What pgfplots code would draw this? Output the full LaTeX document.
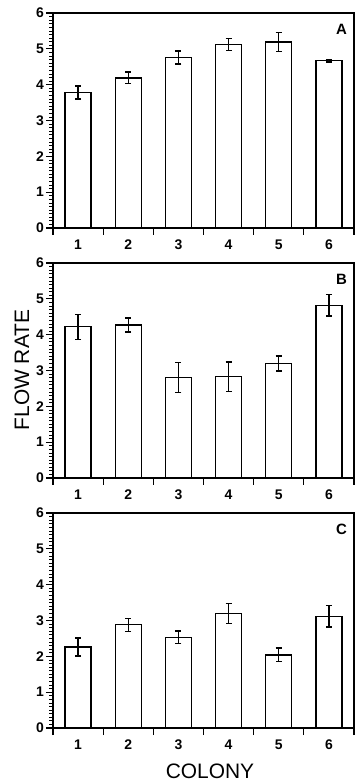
\documentclass[border=0pt]{standalone}
\usepackage{fontspec}
\setmainfont{Liberation Sans}
\usepackage{pgfplots}
\pgfplotsset{compat=1.18}
\usepackage{pgfplotstable}

\pgfplotstableread{
x y e
1 3.78 0.18
2 4.19 0.16
3 4.76 0.18
4 5.12 0.17
5 5.19 0.26
6 4.67 0.04
}\dataA
\pgfplotstableread{
x y e
1 4.22 0.35
2 4.27 0.20
3 2.80 0.42
4 2.83 0.41
5 3.20 0.21
6 4.82 0.30
}\dataB
\pgfplotstableread{
x y e
1 2.26 0.25
2 2.88 0.18
3 2.53 0.18
4 3.19 0.28
5 2.04 0.19
6 3.12 0.30
}\dataC

\pgfplotsset{
  panel/.style={
    scale only axis,
    width=301bp, height=215bp,
    anchor=south west,
    xmin=0.5, xmax=6.5, ymin=0, ymax=6,
    axis line style={line width=1.2bp},
    xtick={0.5,1.5,...,6.5},
    x tick label as interval,
    xticklabels={1,2,3,4,5,6},
    ytick={0,1,...,6},
    minor ytick={0,0.1,...,6},
    xtick pos=left, ytick pos=left,
    tick align=outside,
    major tick length=7bp,
    minor tick length=3.5bp,
    tick style={line width=1.1bp, black},
    minor tick style={line width=0.7bp, black},
    tick label style={font=\bfseries\fontsize{14}{16}\selectfont},
    xticklabel style={yshift=-1bp},
    yticklabel style={xshift=1.5bp},
    /pgf/number format/assume math mode=true,
    ybar, bar width=0.52,
  },
  barstyle/.style={
    fill=white, draw=black, line width=1.3bp,
    error bars/.cd, y dir=both, y explicit,
    error bar style={line width=1.4bp},
    error mark options={rotate=90, mark size=3bp, line width=1.4bp},
  },
}

\begin{document}
\begin{tikzpicture}
\useasboundingbox (0,0) rectangle (357bp,781bp);

\begin{axis}[panel, at={(53bp,553bp)}]
\addplot[barstyle] table[x=x, y=y, y error=e] {\dataA};
\node[font=\bfseries\fontsize{15}{17}\selectfont] at (axis cs:6.25,5.55) {A};
\end{axis}

\begin{axis}[panel, at={(53bp,303bp)}]
\addplot[barstyle] table[x=x, y=y, y error=e] {\dataB};
\node[font=\bfseries\fontsize{15}{17}\selectfont] at (axis cs:6.25,5.55) {B};
\end{axis}

\begin{axis}[panel, at={(53bp,53bp)}]
\addplot[barstyle] table[x=x, y=y, y error=e] {\dataC};
\node[font=\bfseries\fontsize{15}{17}\selectfont] at (axis cs:6.25,5.55) {C};
\end{axis}

\node[rotate=90, font=\fontsize{21}{24}\selectfont] at (22bp,411bp) {FLOW RATE};
\node[anchor=base, font=\fontsize{21}{24}\selectfont] at (210bp,3bp) {COLONY};
\end{tikzpicture}
\end{document}
